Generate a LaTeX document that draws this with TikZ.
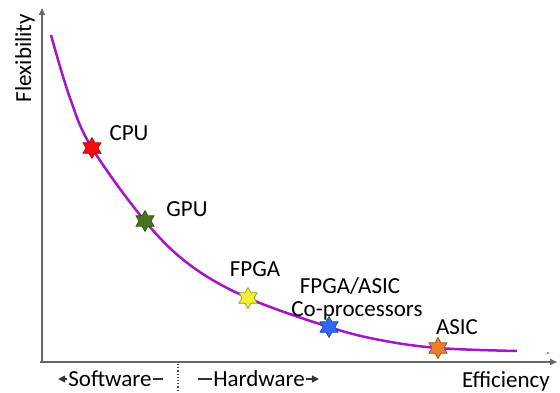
\documentclass[tikz,border=0pt]{standalone}
\usepackage{fontspec}
\setmainfont{Carlito}
\usetikzlibrary{arrows.meta,shapes.geometric}

\begin{document}
\begin{tikzpicture}[x=1pt, y=-1pt,
		axis/.style={line width=1.5pt, color=black!60, -{Triangle[length=7pt, width=6pt]}},
		curve/.style={line width=2.5pt, color=curvepurple},
		hexstar/.style={star, star points=6, star point ratio=1.75, minimum size=21pt, inner sep=0pt, line width=0.6pt, draw=#1!60!black, fill=#1},
		lbl/.style={font=\fontsize{23}{26}\selectfont, inner sep=0pt},
		sidearrow/.style={line width=1.4pt, color=black!80}]
		%%%%% START %%%%%
		
		\useasboundingbox (0, 0) rectangle (560, 392);
		
		\definecolor{curvepurple}{RGB}{165,20,200}
		\definecolor{cpured}{RGB}{250,10,10}
		\definecolor{gpugreen}{RGB}{75,115,30}
		\definecolor{fpgayellow}{RGB}{240,240,50}
		\definecolor{coblue}{RGB}{45,105,245}
		\definecolor{asicorange}{RGB}{235,125,45}
		
		% axes
		\coordinate (origin) at (42, 362);
		\draw[axis] (origin) -- (42, 8);
		\draw[axis] (40, 362) -- (557, 362);
		
		% points on the curve
		\coordinate (top) at (51, 35);
		\coordinate (cpu) at (92, 148);
		\coordinate (gpu) at (145, 221);
		\coordinate (fpga) at (248, 298);
		\coordinate (copro) at (329, 327);
		\coordinate (asic) at (438, 348);
		\coordinate (tail) at (517, 351);
		
		\draw[curve] plot[smooth, tension=0.6] coordinates {(top) (70, 98) (cpu) (gpu) (190, 265) (fpga) (copro) (380, 340) (asic) (tail)};
		\fill[curvepurple] (548, 353) circle (1);
		
		\node[hexstar=cpured] (cpustar) at (cpu) {};
		\node[hexstar=gpugreen] (gpustar) at (gpu) {};
		\node[hexstar=fpgayellow] (fpgastar) at (fpga) {};
		\node[hexstar=coblue] (costar) at (copro) {};
		\node[hexstar=asicorange] (asicstar) at (asic) {};
		
		\node[lbl] (cpulbl) at (129, 133) {CPU};
		\node[lbl] (gpulbl) at (187, 209) {GPU};
		\node[lbl] (fpgalbl) at (255, 269) {FPGA};
		\node[lbl] (colbl1) at (350, 286) {FPGA/ASIC};
		\node[lbl] (colbl2) at (357, 311) {Co-processors};
		\node[lbl] (asiclbl) at (457, 327) {ASIC};
		
		\node[lbl, rotate=90] (flex) at (25, 58) {Flexibility};
		\node[lbl] (eff) at (506, 381) {Efficiency};
		
		% software / hardware split
		\draw[line width=1.2pt, dotted, color=black!70] (178, 364) -- (178, 392);
		\node[lbl] (sw) at (110, 379) {Software};
		\node[lbl] (hw) at (259, 379) {Hardware};
		\draw[sidearrow, -{Triangle[length=7pt, width=7pt]}] ([xshift=-1pt]sw.west) -- ++(-9, 0);
		\draw[sidearrow] ([xshift=1pt]sw.east) -- ++(10, 0);
		\draw[sidearrow] ([xshift=-1pt]hw.west) -- ++(-14, 0);
		\draw[sidearrow, -{Triangle[length=7pt, width=7pt]}] ([xshift=1pt]hw.east) -- ++(13, 0);
		
		%%%%% END %%%%%
	\end{tikzpicture}
\end{document}
